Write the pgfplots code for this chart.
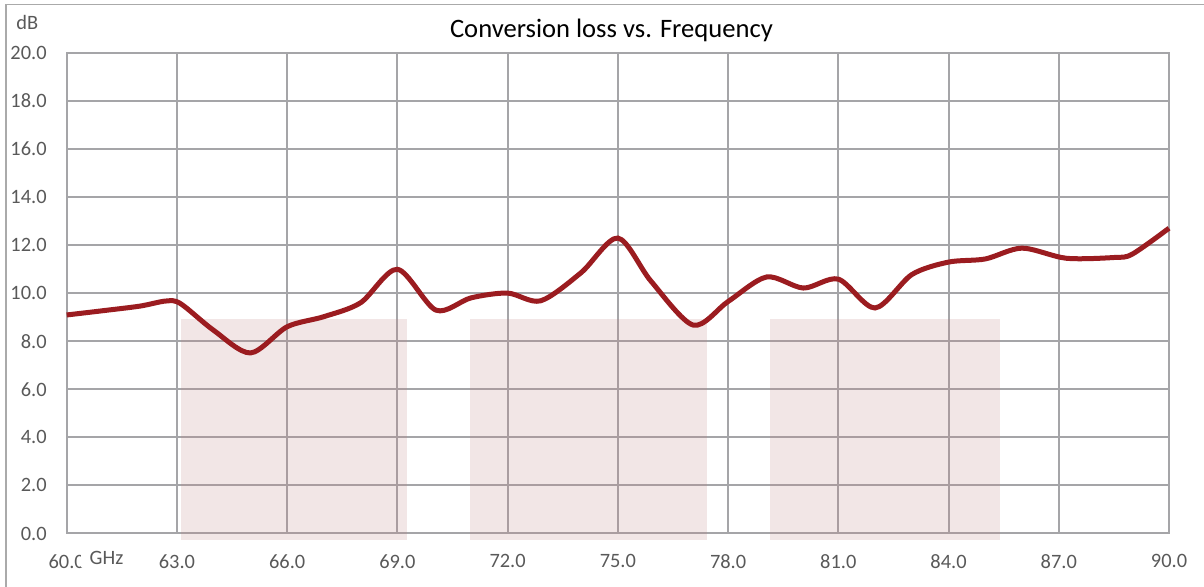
\documentclass[border=0pt]{standalone}
\usepackage{fontspec}
\setmainfont{Carlito}
\usepackage{pgfplots}
\pgfplotsset{compat=1.18}
\definecolor{gridc}{RGB}{165,165,168}
\definecolor{tickc}{RGB}{89,89,89}
\definecolor{linec}{RGB}{155,28,32}
\definecolor{shadec}{RGB}{192,128,128}
\definecolor{borderc}{RGB}{170,170,170}
\begin{document}
\begin{tikzpicture}
\path[use as bounding box] (-33.35pt,-26.75pt) rectangle (568.65pt,266.75pt);
\draw[borderc, line width=0.7pt] (-30.35pt,-40pt) rectangle (600pt,264.4pt);
\begin{axis}[
  name=ax,
  at={(0,0)}, anchor=south west,
  scale only axis,
  width=551.15pt, height=240.4pt,
  xmin=60, xmax=90, ymin=0, ymax=20,
  xtick={60,63,...,90}, ytick={0,2,...,20},
  xticklabel={\pgfmathprintnumber[fixed,fixed zerofill,precision=1]{\tick}},
  yticklabel={\pgfmathprintnumber[fixed,fixed zerofill,precision=1]{\tick}},
  /pgf/number format/assume math mode=true,
  tick label style={font=\fontsize{10.2}{12}\selectfont, text=tickc},
  xticklabel style={yshift=-7pt},
  yticklabel style={xshift=-6.5pt},
  major tick length=0pt,
  grid=major,
  major grid style={draw=gridc, line width=1pt},
  axis line style={draw=gridc, line width=1pt},
  clip=false,
]
\addplot[draw=none, fill=shadec, fill opacity=0.2] coordinates {(63.10,-0.27) (63.10,8.92) (69.27,8.92) (69.27,-0.27)} -- cycle;
\addplot[draw=none, fill=shadec, fill opacity=0.2] coordinates {(70.97,-0.27) (70.97,8.92) (77.42,8.92) (77.42,-0.27)} -- cycle;
\addplot[draw=none, fill=shadec, fill opacity=0.2] coordinates {(79.15,-0.27) (79.15,8.92) (85.39,8.92) (85.39,-0.27)} -- cycle;
\addplot[linec, line width=2.5pt, smooth, tension=0.5] coordinates {
(60,9.09) (61,9.27) (62,9.46) (62.7,9.67) (63.1,9.56) (64,8.45) (65,7.51) (66,8.60)
(67,9.02) (68,9.60) (69,10.99) (70.05,9.29) (71,9.80) (72,10.00) (72.9,9.68)
(74,10.85) (75,12.29) (75.9,10.50) (77.05,8.67) (78,9.65) (79.05,10.67)
(80.05,10.21) (81,10.58) (82,9.38) (83,10.77) (84,11.29) (85,11.42) (86,11.87)
(87.2,11.45) (88.5,11.48) (89,11.62) (90,12.70)};
\end{axis}
\node[anchor=base west, fill=white, inner xsep=1pt, inner ysep=1.5pt, font=\fontsize{10.2}{12}\selectfont, text=tickc] at (6.8pt,-15.4pt) {\hspace*{3.5pt}GHz};
\node[anchor=base west, inner sep=0pt, font=\fontsize{10.2}{12}\selectfont, text=tickc] at (-25.35pt,252.1pt) {dB};
\node[anchor=base, inner sep=0pt, font=\fontsize{13.3}{16}\selectfont, text=black] at (272.4pt,247.75pt) {Conversion loss vs. Frequency};
\end{tikzpicture}
\end{document}
